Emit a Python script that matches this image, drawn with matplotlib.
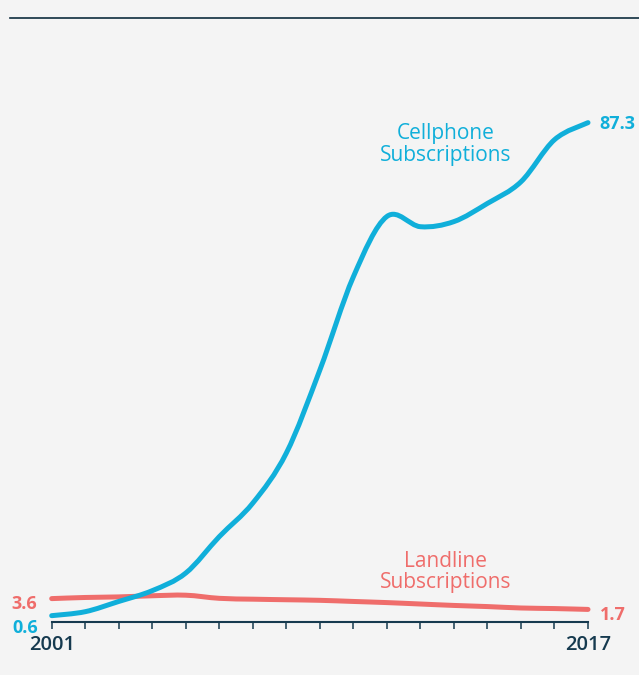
import matplotlib
matplotlib.use("Agg")
import matplotlib.pyplot as plt
import numpy as np
from matplotlib.path import Path
from matplotlib.patches import PathPatch

# Subscriptions per 100 people, 2001-2017
years = list(range(2001, 2018))
cellphone = [0.6, 1.3, 3.1, 5.0, 8.1, 14.5, 20.4, 29.2, 43.8, 60.2,
             70.8, 69.0, 69.9, 73.1, 76.9, 84.3, 87.3]
landline = [3.6, 3.8, 3.9, 4.1, 4.2, 3.65, 3.5, 3.4, 3.3, 3.1,
            2.9, 2.65, 2.4, 2.2, 1.95, 1.85, 1.7]
tick_labels = {2001: "2001", 2017: "2017"}

CELL = "#10afda"
LAND = "#ef6d6b"
NAVY = "#163a4f"
BG = "#f4f4f4"
W, H = 639, 675

plt.rcParams["font.family"] = ["Open Sans", "DejaVu Sans"]

fig = plt.figure(figsize=(W / 100, H / 100), dpi=100, facecolor=BG)


def fx(x):
    return x / W


def fy(y):
    return 1 - y / H


ax_left, ax_right, ax_top, ax_bottom = 51.7, 588.0, 80.0, 621.7
ax = fig.add_axes([fx(ax_left), fy(ax_bottom), fx(ax_right - ax_left),
                   (ax_bottom - ax_top) / H])
ax.set_facecolor(BG)
ax.set_xlim(2001, 2017)
ax.set_ylim(-0.46, 94.8)


def smooth_path(xs, ys):
    """Catmull-Rom curve through the points, as cubic Bezier segments."""
    p = np.column_stack([xs, ys]).astype(float)
    n = len(p)
    verts = [p[0]]
    codes = [Path.MOVETO]
    for i in range(n - 1):
        p0 = p[i - 1] if i > 0 else p[i]
        p1, p2 = p[i], p[i + 1]
        p3 = p[i + 2] if i + 2 < n else p[i + 1]
        c1 = p1 + (p2 - p0) / 6.0
        c2 = p2 - (p3 - p1) / 6.0
        verts += [c1, c2, p2]
        codes += [Path.CURVE4] * 3
    return Path(verts, codes)


for series, color, z in [(landline, LAND, 3), (cellphone, CELL, 4)]:
    patch = PathPatch(smooth_path(years, series), facecolor="none",
                      edgecolor=color, lw=3.6, capstyle="round",
                      joinstyle="round", zorder=z, clip_on=False)
    ax.add_patch(patch)

# axis styling
for s in ["top", "right", "left"]:
    ax.spines[s].set_visible(False)
ax.spines["bottom"].set_color(NAVY)
ax.spines["bottom"].set_linewidth(1.5)
ax.set_yticks([])
ax.set_xticks(years)
ax.set_xticklabels([tick_labels.get(y, "") for y in years])
ax.tick_params(axis="x", direction="out", length=4.8, width=1.1,
               color=NAVY, pad=5, labelcolor=NAVY, labelsize=14.5)
for lbl in ax.get_xticklabels():
    lbl.set_fontweight("semibold")

# end-point value labels
bold = dict(fontsize=13, fontweight="bold", va="baseline")
ax.annotate(f"{cellphone[-1]:.1f}", (years[-1], cellphone[-1]),
            xytext=(8, -4.7), textcoords="offset points", ha="left",
            color=CELL, annotation_clip=False, **bold)
ax.annotate(f"{landline[-1]:.1f}", (years[-1], landline[-1]),
            xytext=(8.6, -7.7), textcoords="offset points", ha="left",
            color=LAND, annotation_clip=False, **bold)
ax.annotate(f"{landline[0]:.1f}", (years[0], landline[0]),
            xytext=(-10.3, -7.4), textcoords="offset points", ha="right",
            color=LAND, annotation_clip=False, **bold)
ax.annotate(f"{cellphone[0]:.1f}", (years[0], cellphone[0]),
            xytext=(-9.8, -12.7), textcoords="offset points", ha="right",
            color=CELL, annotation_clip=False, **bold)

# series names
for text, y, color in [("Cellphone", 139.3, CELL), ("Subscriptions", 160.7, CELL),
                       ("Landline", 566.7, LAND), ("Subscriptions", 587.7, LAND)]:
    fig.text(fx(446), fy(y), text, ha="center", va="baseline",
             fontsize=15, color=color)

# header rule
fig.add_artist(plt.Line2D([fx(10), fx(639)], [fy(17.5), fy(17.5)],
                          color="#0e2c3d", lw=1.2))

fig.savefig("out.png", dpi=100, facecolor=BG)
